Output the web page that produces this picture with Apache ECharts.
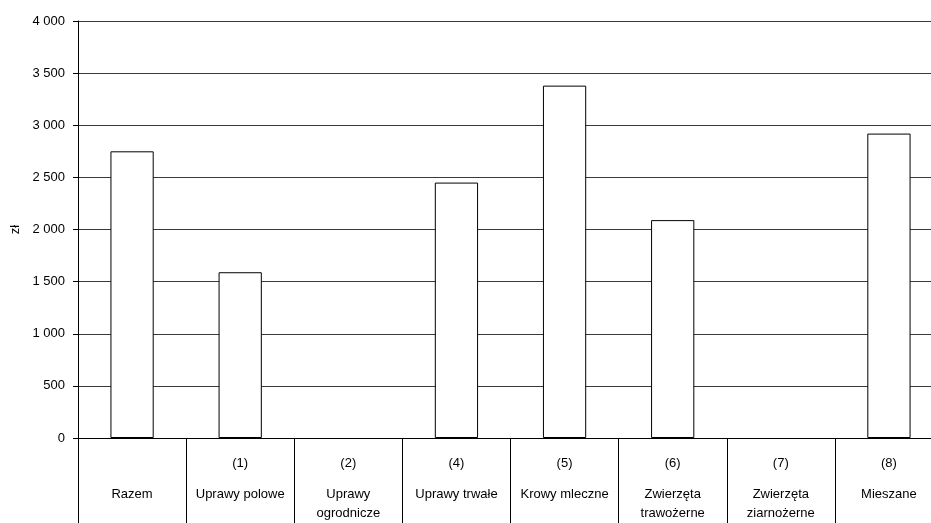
<!DOCTYPE html>
<html>
<head>
<meta charset="utf-8">
<script src="https://cdn.jsdelivr.net/npm/echarts@6/dist/echarts.min.js"></script>
<style>
html,body{margin:0;padding:0;background:#fff;}
#chart{width:931px;height:523px;}
</style>
</head>
<body>
<div id="chart"></div>
<script>
const categories = ["Razem", "Uprawy polowe", "Uprawy\nogrodnicze", "Uprawy trwałe", "Krowy mleczne", "Zwierzęta\ntrawożerne", "Zwierzęta\nziarnożerne", "Mieszane"];
const groupNumbers = ["", "(1)", "(2)", "(4)", "(5)", "(6)", "(7)", "(8)"];
const values = [2750, 1590, null, 2450, 3380, 2090, null, 2920];
const yTicks = [0, 500, 1000, 1500, 2000, 2500, 3000, 3500, 4000];

const FONT = '"Liberation Sans", Arial, sans-serif';

function fmtThousands(v) {
  if (v >= 1000) {
    return Math.floor(v / 1000) + ' ' + String(v % 1000).padStart(3, '0');
  }
  return String(v);
}

const chart = echarts.init(document.getElementById('chart'));
chart.setOption({
  animation: false,
  backgroundColor: '#ffffff',
  grid: { left: 78, width: 865, top: 21, height: 417, containLabel: false, outerBoundsMode: 'none' },
  xAxis: {
    type: 'category',
    data: categories,
    boundaryGap: true,
    axisLine: { show: true, lineStyle: { color: '#000', width: 1 } },
    axisTick: { show: true, alignWithLabel: false, interval: 0, length: 90, lineStyle: { color: '#000', width: 1 } },
    splitLine: { show: false },
    axisLabel: {
      interval: 0,
      margin: 3,
      color: '#000',
      fontFamily: FONT,
      fontSize: 13,
      formatter: function (value, idx) {
        const num = groupNumbers[idx] || ' ';
        const lines = value.split('\n').map(l => '{t|' + l + '}').join('\n');
        return '{n|' + num + '}\n' + lines;
      },
      rich: {
        n: { lineHeight: 44, fontSize: 13, fontFamily: FONT, color: '#000', align: 'center' },
        t: { lineHeight: 19, fontSize: 13, fontFamily: FONT, color: '#000', align: 'center' }
      }
    }
  },
  yAxis: {
    type: 'value',
    min: yTicks[0],
    max: yTicks[yTicks.length - 1],
    interval: 500,
    name: 'zł',
    nameLocation: 'middle',
    nameRotate: 90,
    nameGap: 52,
    nameTextStyle: { color: '#000', fontFamily: FONT, fontSize: 13 },
    axisLine: { show: true, lineStyle: { color: '#000', width: 1 } },
    axisTick: { show: true, length: 5, lineStyle: { color: '#000', width: 1 } },
    axisLabel: {
      margin: 13,
      color: '#000',
      fontFamily: FONT,
      fontSize: 13,
      formatter: fmtThousands
    },
    splitLine: { show: true, lineStyle: { color: '#3a3a3a', width: 1 } }
  },
  series: [{
    type: 'bar',
    data: values,
    barWidth: '40%',
    itemStyle: { color: '#ffffff', borderColor: '#000', borderWidth: 1 },
    emphasis: { disabled: true }
  }]
});
</script>
</body>
</html>
